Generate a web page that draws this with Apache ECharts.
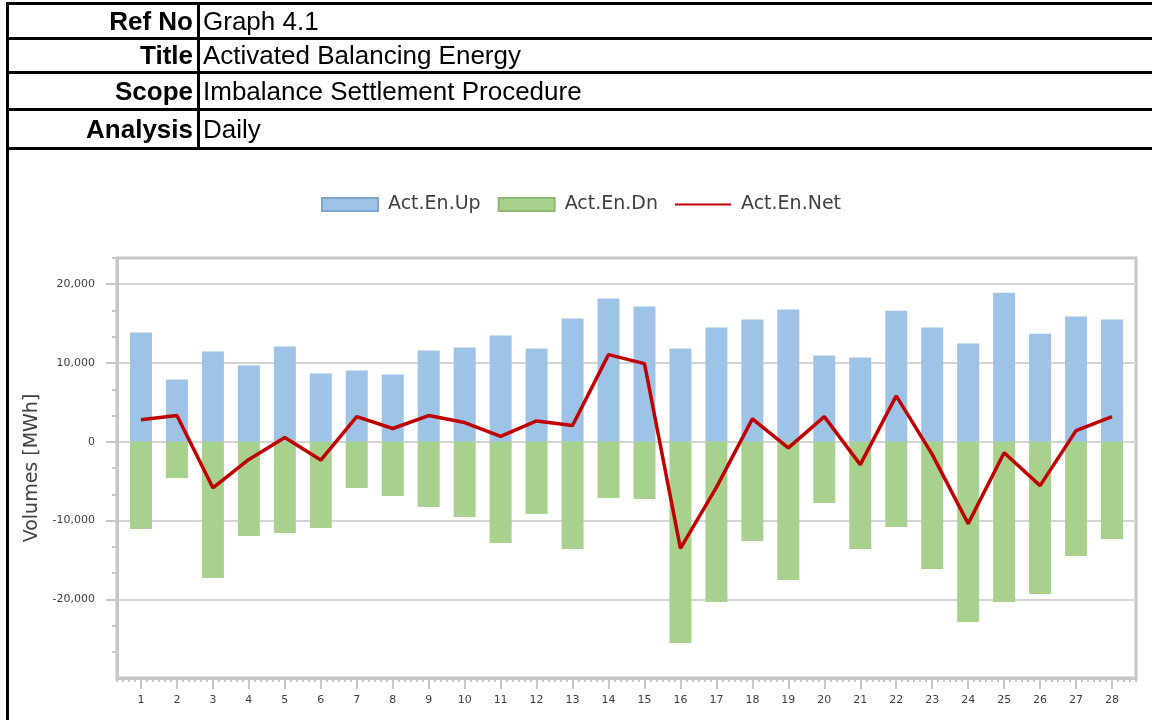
<!DOCTYPE html>
<html>
<head>
<meta charset="utf-8">
<script src="https://cdn.jsdelivr.net/npm/echarts@6/dist/echarts.min.js"></script>
<style>
  html, body { margin: 0; padding: 0; background: #fff; }
  #page { position: relative; width: 1152px; height: 720px; overflow: hidden; }
  #chart { position: absolute; left: 0; top: 0; width: 1152px; height: 720px; }
  .rule { position: absolute; background: #000; }
  .lbl, .val { position: absolute; font-family: "Liberation Sans", Arial, sans-serif; font-size: 26px; color: #000; line-height: 30px; white-space: nowrap; }
  .lbl { font-weight: bold; right: calc(1152px - 193px); text-align: right; }
  .val { left: 203px; }
</style>
</head>
<body>
<div id="page">
  <div id="chart"></div>
  <!-- info table above the chart -->
  <div class="rule" style="left:6px; top:2px; width:1146px; height:3px;"></div>
  <div class="rule" style="left:6px; top:37px; width:1146px; height:3px;"></div>
  <div class="rule" style="left:6px; top:71px; width:1146px; height:3px;"></div>
  <div class="rule" style="left:6px; top:108px; width:1146px; height:3px;"></div>
  <div class="rule" style="left:6px; top:147px; width:1146px; height:3px;"></div>
  <div class="rule" style="left:6px; top:2px; width:3px; height:718px;"></div>
  <div class="rule" style="left:197px; top:2px; width:3px; height:148px;"></div>
  <div id="info"></div>
</div>
<script>
// Header table
const infoLabels = ['Ref No', 'Title', 'Scope', 'Analysis'];
const infoValues = ['Graph 4.1', 'Activated Balancing Energy', 'Imbalance Settlement Procedure', 'Daily'];

// Daily volumes (MWh)
const days = [1, 2, 3, 4, 5, 6, 7, 8, 9, 10, 11, 12, 13, 14, 15, 16, 17, 18, 19, 20, 21, 22, 23, 24, 25, 26, 27, 28];
const actEnUp = [13860, 7900, 11450, 9680, 12090, 8660, 9040, 8540, 11580, 11960, 13480, 11830, 15640, 18200,
                 17160, 11830, 14500, 15510, 16780, 10940, 10690, 16650, 14500, 12470, 18930, 13730, 15890, 15510];
const actEnDn = [-11080, -4610, -17300, -11970, -11590, -10950, -5880, -6900, -8290, -9560, -12860, -9180, -13620, -7150,
                 -7280, -25540, -20340, -12600, -17550, -7780, -13620, -10830, -16160, -22880, -20340, -19330, -14510, -12350];
const actEnNet = [2780, 3330, -5850, -2250, 550, -2330, 3180, 1680, 3330, 2440, 680, 2640, 2060, 11060,
                  9920, -13550, -5800, 2910, -770, 3190, -2900, 5830, -1600, -10400, -1400, -5570, 1410, 3180];

// Axis ticks
const yMajorTicks = [-20000, -10000, 0, 10000, 20000];

const infoTops = [6, 40, 76, 114];
const info = document.getElementById('info');
infoLabels.forEach((t, i) => {
  const l = document.createElement('div');
  l.className = 'lbl'; l.style.top = infoTops[i] + 'px'; l.textContent = t;
  const v = document.createElement('div');
  v.className = 'val'; v.style.top = infoTops[i] + 'px'; v.textContent = infoValues[i];
  info.appendChild(l); info.appendChild(v);
});

const xMin = 1 / 3, xMax = 28 + 2 / 3;
const yMin = -30000, yMax = 70000 / 3;

// minor tick positions: every 1/6 day on x, every 1/3 of a major step on y
const xMinor = [];
for (let k = 2; k <= 172; k++) { if (k % 6 !== 0) xMinor.push(k / 6); }
const yMinor = [];
for (let k = -9; k <= 7; k++) { if (k % 3 !== 0) yMinor.push(k * 10000 / 3); }

const fmt = v => (v < 0 ? '-' : '') + Math.abs(Math.round(v)).toString().replace(/\B(?=(\d{3})+(?!\d))/g, ',');

const axisGrey = '#c6c6c6';
const font = '"DejaVu Sans", Verdana, sans-serif';

// thin line icon for the net series legend entry (corner points fix the icon box)
const netIcon = 'path://M0,0L0,0M0,5.5L56,5.5L56,7.5L0,7.5ZM56,13L56,13';

const chart = echarts.init(document.getElementById('chart'), null, { renderer: 'canvas' });
chart.setOption({
  animation: false,
  backgroundColor: 'transparent',
  legend: {
    top: 190,
    left: 316,
    itemWidth: 56,
    itemHeight: 13,
    itemGap: 17,
    textStyle: { fontFamily: font, fontSize: 19, color: '#404040', padding: [0, 0, 0, 5] },
    data: [
      { name: 'Act.En.Up', icon: 'rect', itemStyle: { color: '#9DC3E6', borderColor: '#7FA4CC', borderWidth: 2 } },
      { name: 'Act.En.Dn', icon: 'rect', itemStyle: { color: '#A9D18E', borderColor: '#8DB872', borderWidth: 2 } },
      { name: 'Act.En.Net', icon: netIcon, itemStyle: { color: '#C00000', borderWidth: 0 } }
    ]
  },
  grid: {
    left: 117, right: 16, top: 258, bottom: 42,
    show: true, borderColor: axisGrey, borderWidth: 3, backgroundColor: 'transparent'
  },
  xAxis: [
    {
      type: 'value', min: xMin, max: xMax, position: 'bottom',
      axisLine: { show: true, onZero: false, lineStyle: { color: axisGrey, width: 3 } },
      axisTick: { show: true, inside: false, length: 11, customValues: days, lineStyle: { color: axisGrey, width: 2 } },
      axisLabel: { customValues: days, margin: 17, fontFamily: font, fontSize: 11, color: '#404040', formatter: v => String(Math.round(v)) },
      splitLine: { show: false }
    },
    {
      type: 'value', min: xMin, max: xMax, position: 'bottom',
      axisLine: { show: false, onZero: false },
      axisTick: { show: true, inside: false, length: 4, customValues: xMinor, lineStyle: { color: axisGrey, width: 2 } },
      axisLabel: { show: false },
      splitLine: { show: false }
    }
  ],
  yAxis: [
    {
      type: 'value', min: yMin, max: yMax, position: 'left',
      axisLine: { show: true, onZero: false, lineStyle: { color: axisGrey, width: 3 } },
      axisTick: { show: true, inside: false, length: 11, customValues: yMajorTicks, lineStyle: { color: axisGrey, width: 2 } },
      axisLabel: { customValues: yMajorTicks, margin: 22, fontFamily: font, fontSize: 11, color: '#404040', formatter: fmt },
      splitLine: { show: true, lineStyle: { color: '#d4d4d4', width: 2 } },
      name: 'Volumes [MWh]', nameLocation: 'middle', nameGap: 74, nameRotate: 90,
      nameTextStyle: { fontFamily: font, fontSize: 19, color: '#404040' }
    },
    {
      type: 'value', min: yMin, max: yMax, position: 'left',
      axisLine: { show: false, onZero: false },
      axisTick: { show: true, inside: false, length: 5, customValues: yMinor, lineStyle: { color: axisGrey, width: 2 } },
      axisLabel: { show: false },
      splitLine: { show: false }
    }
  ],
  series: [
    {
      name: 'Act.En.Up', type: 'bar', barWidth: 22, barGap: '-100%',
      itemStyle: { color: '#9DC3E6' },
      data: days.map((d, i) => [d, actEnUp[i]])
    },
    {
      name: 'Act.En.Dn', type: 'bar', barWidth: 22, barGap: '-100%',
      itemStyle: { color: '#A9D18E' },
      data: days.map((d, i) => [d, actEnDn[i]])
    },
    {
      name: 'Act.En.Net', type: 'line', symbol: 'none', z: 5,
      lineStyle: { color: '#C00000', width: 3.5 }, itemStyle: { color: '#C00000' },
      data: days.map((d, i) => [d, actEnNet[i]])
    }
  ]
});
</script>
</body>
</html>
